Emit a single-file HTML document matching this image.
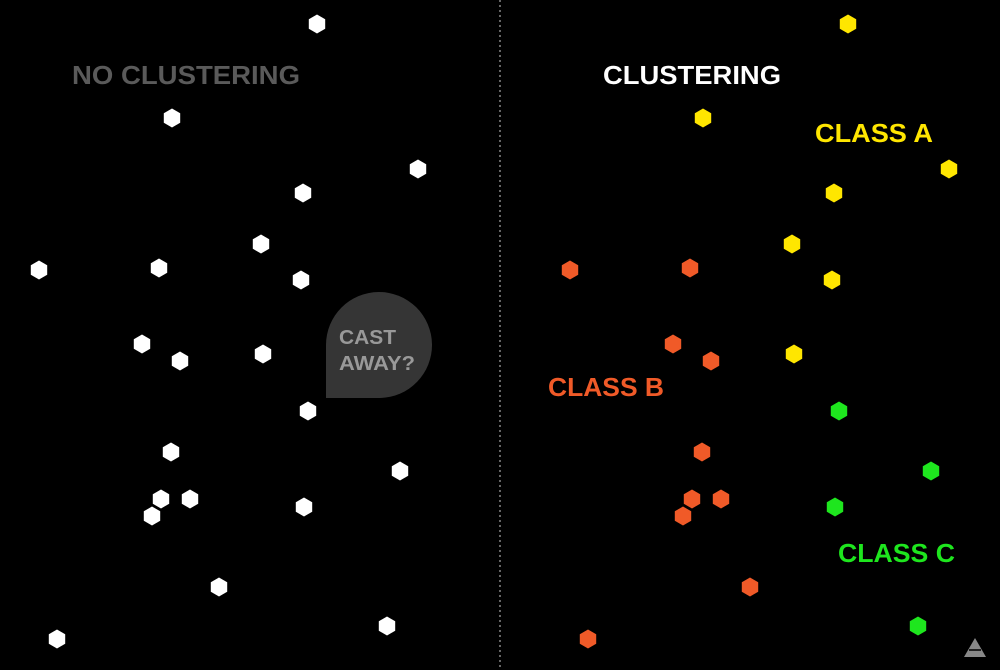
<!DOCTYPE html>
<html><head><meta charset="utf-8"><style>
html,body{margin:0;padding:0;background:#000;}
svg{display:block;}
text{font-family:"Liberation Sans",sans-serif;font-weight:bold;}
</style></head><body>
<svg id="chart" width="1000" height="670" viewBox="0 0 1000 670">
<rect width="1000" height="670" fill="#000"/>
<line x1="500" y1="0" x2="500" y2="670" stroke="#888" stroke-width="1.5" stroke-dasharray="2,3"/>
<text x="72" y="84" font-size="26" fill="#5a5a5a" textLength="228" lengthAdjust="spacingAndGlyphs">NO CLUSTERING</text>
<text x="603" y="84" font-size="26" fill="#fff" textLength="178" lengthAdjust="spacingAndGlyphs">CLUSTERING</text>
<text x="815" y="142" font-size="26" fill="#ffe600" textLength="118" lengthAdjust="spacingAndGlyphs">CLASS A</text>
<text x="548" y="396" font-size="26" fill="#f05a28" textLength="116" lengthAdjust="spacingAndGlyphs">CLASS B</text>
<text x="838" y="562" font-size="26" fill="#1ee61e" textLength="117" lengthAdjust="spacingAndGlyphs">CLASS C</text>
<g>
<path d="M326,398 L326,345 A53,53 0 1 1 380,398 Z" fill="#353535"/>
<text x="339" y="344" font-size="20" fill="#999" textLength="57" lengthAdjust="spacingAndGlyphs">CAST</text>
<text x="339" y="370" font-size="20" fill="#999" textLength="76" lengthAdjust="spacingAndGlyphs">AWAY?</text>
</g>
<g>
<path d="M975,638 L986,657 L964,657 Z" fill="#888"/>
<path d="M969,650 L981,650" stroke="#000" stroke-width="1.5"/>
</g>
<g id="points"></g>
</svg>
<script>
const leftX=[317,172,418,303,261,39,159,301,142,180,263,308,171,400,161,190,152,304,219,387,57];
const leftY=[24,118,169,193,244,270,268,280,344,361,354,411,452,471,499,499,516,507,587,626,639];
const classAX=[848,703,949,834,792,832,794];
const classAY=[24,118,169,193,244,280,354];
const classBX=[570,690,673,711,702,692,721,683,750,588];
const classBY=[270,268,344,361,452,499,499,516,587,639];
const classCX=[839,931,835,918];
const classCY=[411,471,507,626];
const g=document.getElementById('points');
const NS='http://www.w3.org/2000/svg';
function hex(cx,cy,r){let p=[];for(let i=0;i<6;i++){const a=Math.PI/180*(60*i-90);p.push((cx+r*Math.cos(a)).toFixed(1)+','+(cy+r*Math.sin(a)).toFixed(1));}return p.join(' ');}
function draw(xs,ys,color,name){
  xs.forEach((x,i)=>{
    const el=document.createElementNS(NS,'polygon');
    el.setAttribute('points',hex(x,ys[i],9.5));
    el.setAttribute('fill',color);
    
    
    g.appendChild(el);
  });
}
draw(leftX,leftY,'#fff','unclustered-point');
draw(classAX,classAY,'#ffe600','class-a-point');
draw(classBX,classBY,'#f05a28','class-b-point');
draw(classCX,classCY,'#1ee61e','class-c-point');
</script>
</body></html>
